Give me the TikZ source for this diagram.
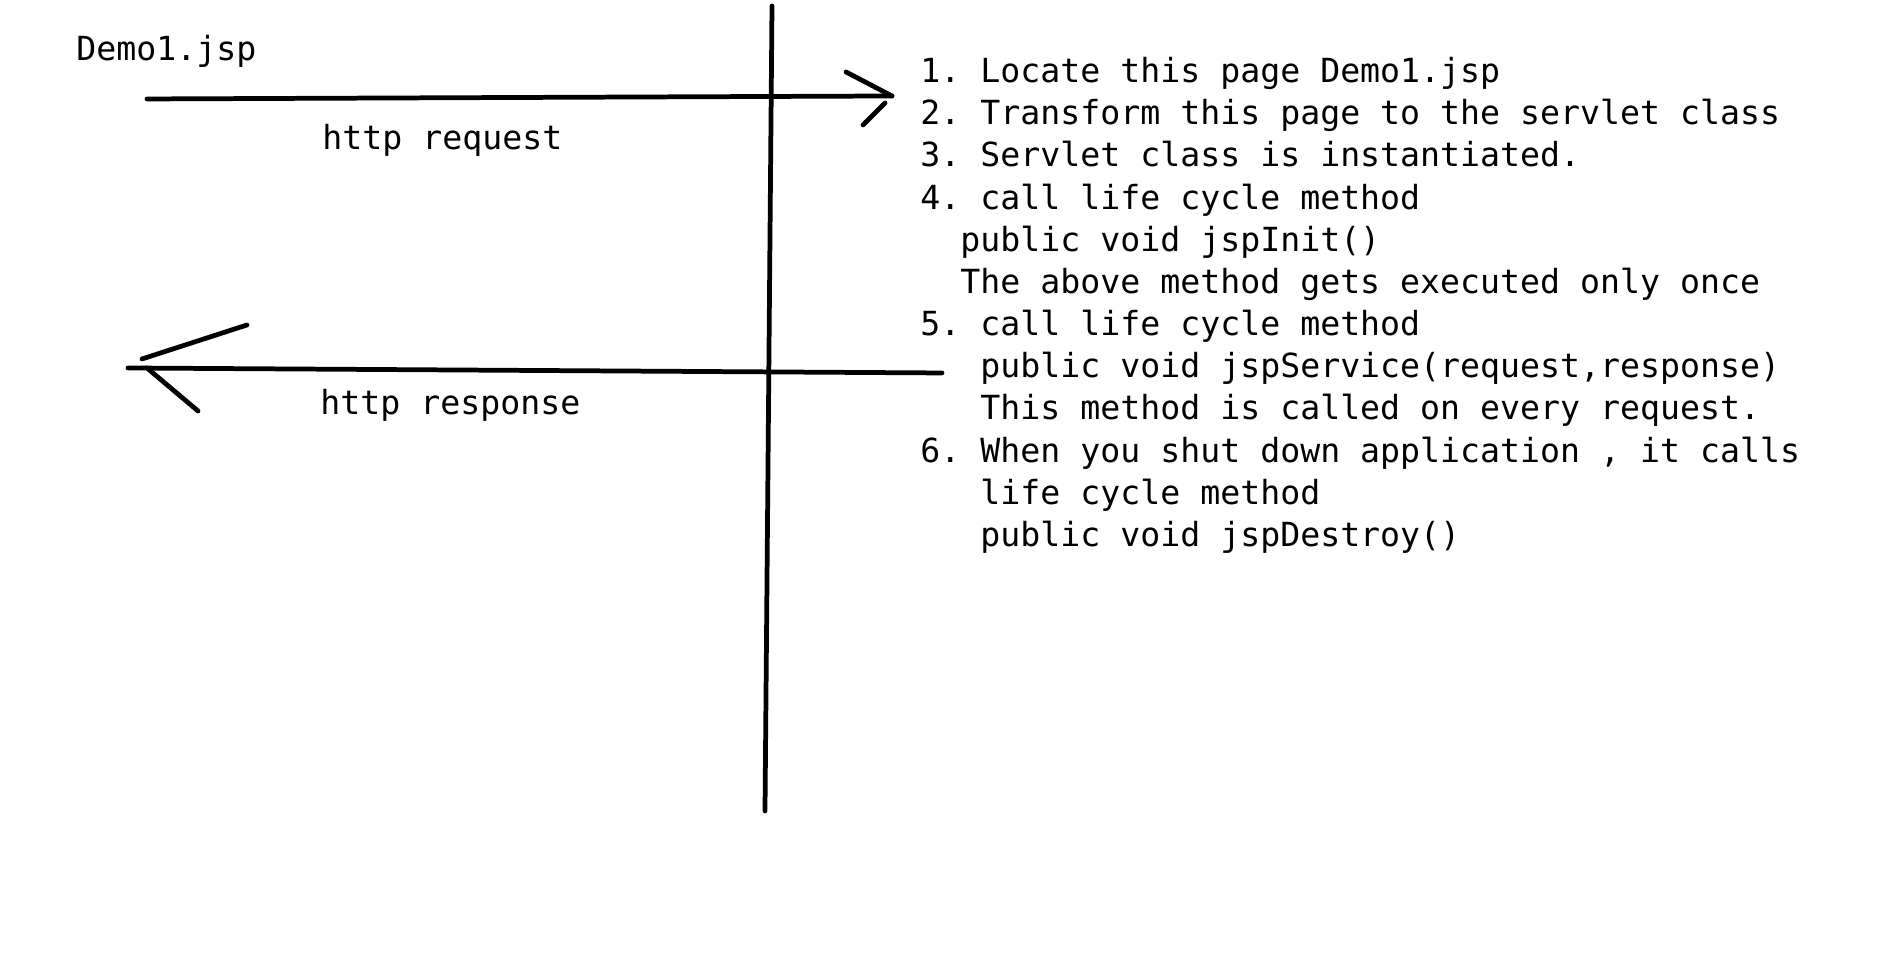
\documentclass[tikz,border=0pt]{standalone}
\usepackage{fontspec}
\setmonofont{DejaVu Sans Mono}
\usetikzlibrary{positioning}

\begin{document}
\begin{tikzpicture}[line width=1.35pt, line cap=round,
    font={\ttfamily\fontsize{9.45}{12}\selectfont}]
    % the canvas
    \useasboundingbox (0,0) rectangle (19.01,9.77);

    \coordinate (T) at (7.72,9.71);
    \coordinate (B) at (7.65,1.66);
    \coordinate (reqA) at (1.47,8.78);
    \coordinate (reqB) at (8.92,8.81);
    \coordinate (resA) at (9.42,6.04);
    \coordinate (resB) at (1.28,6.09);

    % the labels
    \node[anchor=base west, inner sep=0] (page) at (0.74,9.16) {Demo1.jsp};
    \node[anchor=base west, inner sep=0] (req) at (3.20,8.27) {http request};
    \node[anchor=base west, inner sep=0] (res) at (3.18,5.62) {http response};

    % the steps on the server side
    \node[anchor=north west, align=left, inner sep=0] (steps) at (9.18,9.22) {%
        1. Locate this page Demo1.jsp\\
        2. Transform this page to the servlet class\\
        3. Servlet class is instantiated.\\
        4. call life cycle method\\
        \phantom{12}public void jspInit()\\
        \phantom{12}The above method gets executed only once\\
        5. call life cycle method\\
        \phantom{123}public void jspService(request,response)\\
        \phantom{123}This method is called on every request.\\
        6. When you shut down application , it calls\\
        \phantom{123}life cycle method\\
        \phantom{123}public void jspDestroy()};

    % the border between client and server
    \draw (T) -- (B);

    % request arrow
    \draw (reqA) -- (reqB);
    \draw (8.46,9.05) -- (reqB);
    \draw (8.85,8.74) -- (8.63,8.52);

    % response arrow
    \draw (resA) -- (resB);
    \draw (1.42,6.18) -- (2.47,6.52);
    \draw (1.47,6.09) -- (1.98,5.66);
\end{tikzpicture}
\end{document}
